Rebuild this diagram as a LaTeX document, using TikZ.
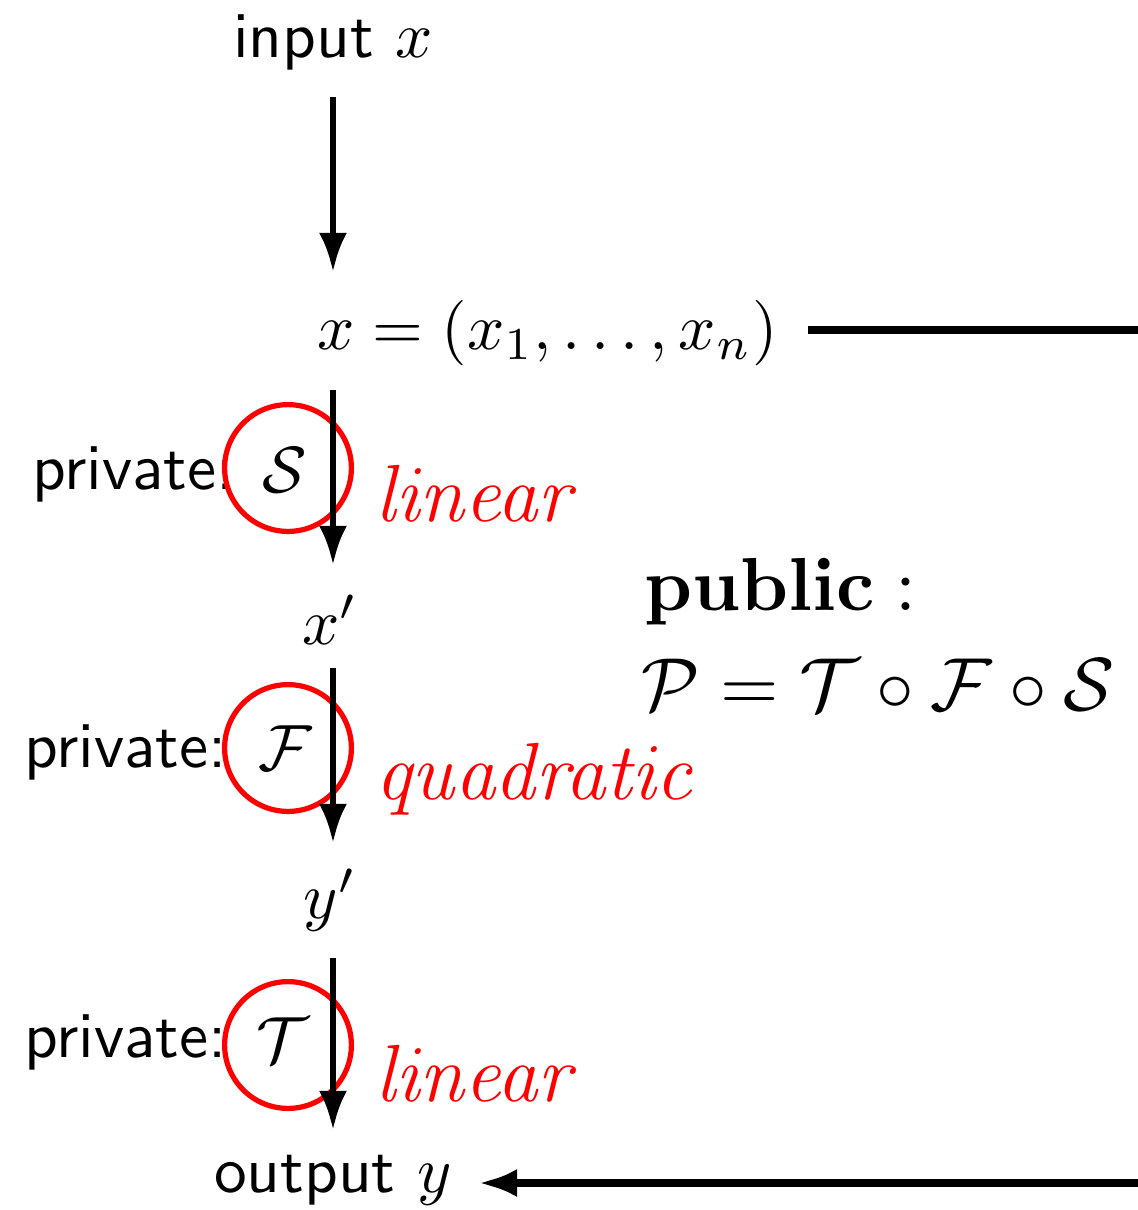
\RequirePackage{fix-cm}
\documentclass[tikz,border=0pt]{standalone}
\usepackage{amsmath,amssymb}
\usetikzlibrary{arrows.meta}
\begin{document}
\begin{tikzpicture}[x=0.153pt,y=-0.153pt,
  arr/.style={line width=1pt,-{Latex[length=6pt,width=4.3pt]}},
  hline/.style={line width=1.2pt},
  ring/.style={draw=red,fill=white,line width=0.8pt,circle,minimum size=19.4pt,inner sep=0pt},
  lbl/.style={font=\sffamily,inner sep=0pt},
  red lbl/.style={text=red,inner sep=0pt,anchor=west,font=\fontsize{12.4}{15}\selectfont},
  pub lbl/.style={anchor=west,inner sep=0pt,font=\fontsize{11.5}{14}\selectfont}]
\useasboundingbox (0,0) rectangle (1138,1210);
\node[lbl] (in) at (333,42) {input $x$};
\node[anchor=west,inner sep=0pt] (xv) at (316,333) {$x=(x_1,\ldots,x_n)$};
\coordinate (xr) at (1138,330);
\coordinate (xl) at (808,330);
\draw[hline] (xl) -- (xr);
\coordinate (a1s) at (333,97); \coordinate (a1e) at (333,272);
\draw[arr] (a1s) -- (a1e);
% labels behind rings
\node[lbl,anchor=east] (pS) at (236,474) {private:};
\node[lbl,anchor=east] (pF) at (228,752) {private:};
\node[lbl,anchor=east] (pT) at (228,1042) {private:};
% rings
\node[ring] (cS) at (288,468) {};
\node[ring] (cF) at (288,748) {};
\node[ring] (cT) at (288,1045) {};
% stage S
\coordinate (a2s) at (333,390); \coordinate (a2e) at (333,565);
\draw[arr] (a2s) -- (a2e);
\node at (285,470) (S) {$\mathcal{S}$};
\node[red lbl] (lS) at (374,493) {$\mathit{linear}$};
\node (x1) at (330,620) {$x'$};
% stage F
\coordinate (a3s) at (333,668); \coordinate (a3e) at (333,843);
\draw[arr] (a3s) -- (a3e);
\node at (285,748) (F) {$\mathcal{F}$};
\node[red lbl] (lF) at (374,779) {$\mathit{quadratic}$};
\node (y1) at (330,900) {$y'$};
% stage T
\coordinate (a4s) at (333,958); \coordinate (a4e) at (333,1130);
\draw[arr] (a4s) -- (a4e);
\node at (283,1040) (T) {$\mathcal{T}$};
\node[red lbl] (lT) at (374,1073) {$\mathit{linear}$};
% output
\node[lbl] (out) at (333,1180) {output $y$};
\coordinate (or) at (1138,1183);
\coordinate (ol) at (478,1183);
\draw[line width=1.2pt,-{Latex[length=6pt,width=4.3pt]}] (or) -- (ol);
% public
\node[pub lbl] (pub) at (643,592) {$\mathbf{public:}$};
\node[pub lbl] (P) at (640,685) {$\mathcal{P}=\mathcal{T}\circ\mathcal{F}\circ\mathcal{S}$};
\end{tikzpicture}
\end{document}
